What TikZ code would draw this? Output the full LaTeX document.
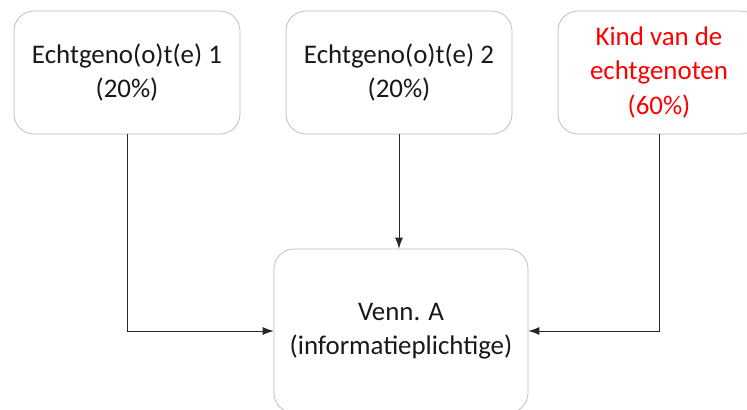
\documentclass[tikz,border=0pt]{standalone}
\usepackage{fontspec}
\setmainfont{Carlito}
\usepackage{xcolor}
\usepackage{tikz}
\usetikzlibrary{arrows.meta}
\definecolor{boxline}{RGB}{185,185,185}
\tikzstyle{party} = [rectangle, rounded corners=0.4cm, minimum width=4.52cm, minimum height=2.46cm, align=center, draw=boxline, fill=white, text=black!90, font=\fontsize{15.3}{19.6}\selectfont]
\tikzstyle{company} = [party, minimum width=5.08cm, minimum height=3.28cm]
\tikzstyle{arrow} = [line width=0.5pt, draw=black!85, -{Latex[length=2.2mm, width=1.6mm]}]

\begin{document}
\begin{tikzpicture}[node distance=5.44cm]
\useasboundingbox (0,0) rectangle (14.94,-8.2);
\node (spouse1) [party] at (2.54,-1.45) {Echtgeno(o)t(e) 1\\(20\%)};
\node (spouse2) [party, right of=spouse1] {Echtgeno(o)t(e) 2\\(20\%)};
\node (child) [party, right of=spouse2, xshift=-0.24cm, minimum width=4.04cm, text=red] {Kind van de\\echtgenoten\\(60\%)};
\node (venn) [company, below of=spouse2, xshift=0.04cm, yshift=0.27cm] {Venn. A\\(informatieplichtige)};

\draw [arrow] (spouse1.south) |- (venn.west);
\draw [arrow] (spouse2.south) -- (spouse2.south |- venn.north);
\draw [arrow] (child.south) |- (venn.east);

\end{tikzpicture}
\end{document}
